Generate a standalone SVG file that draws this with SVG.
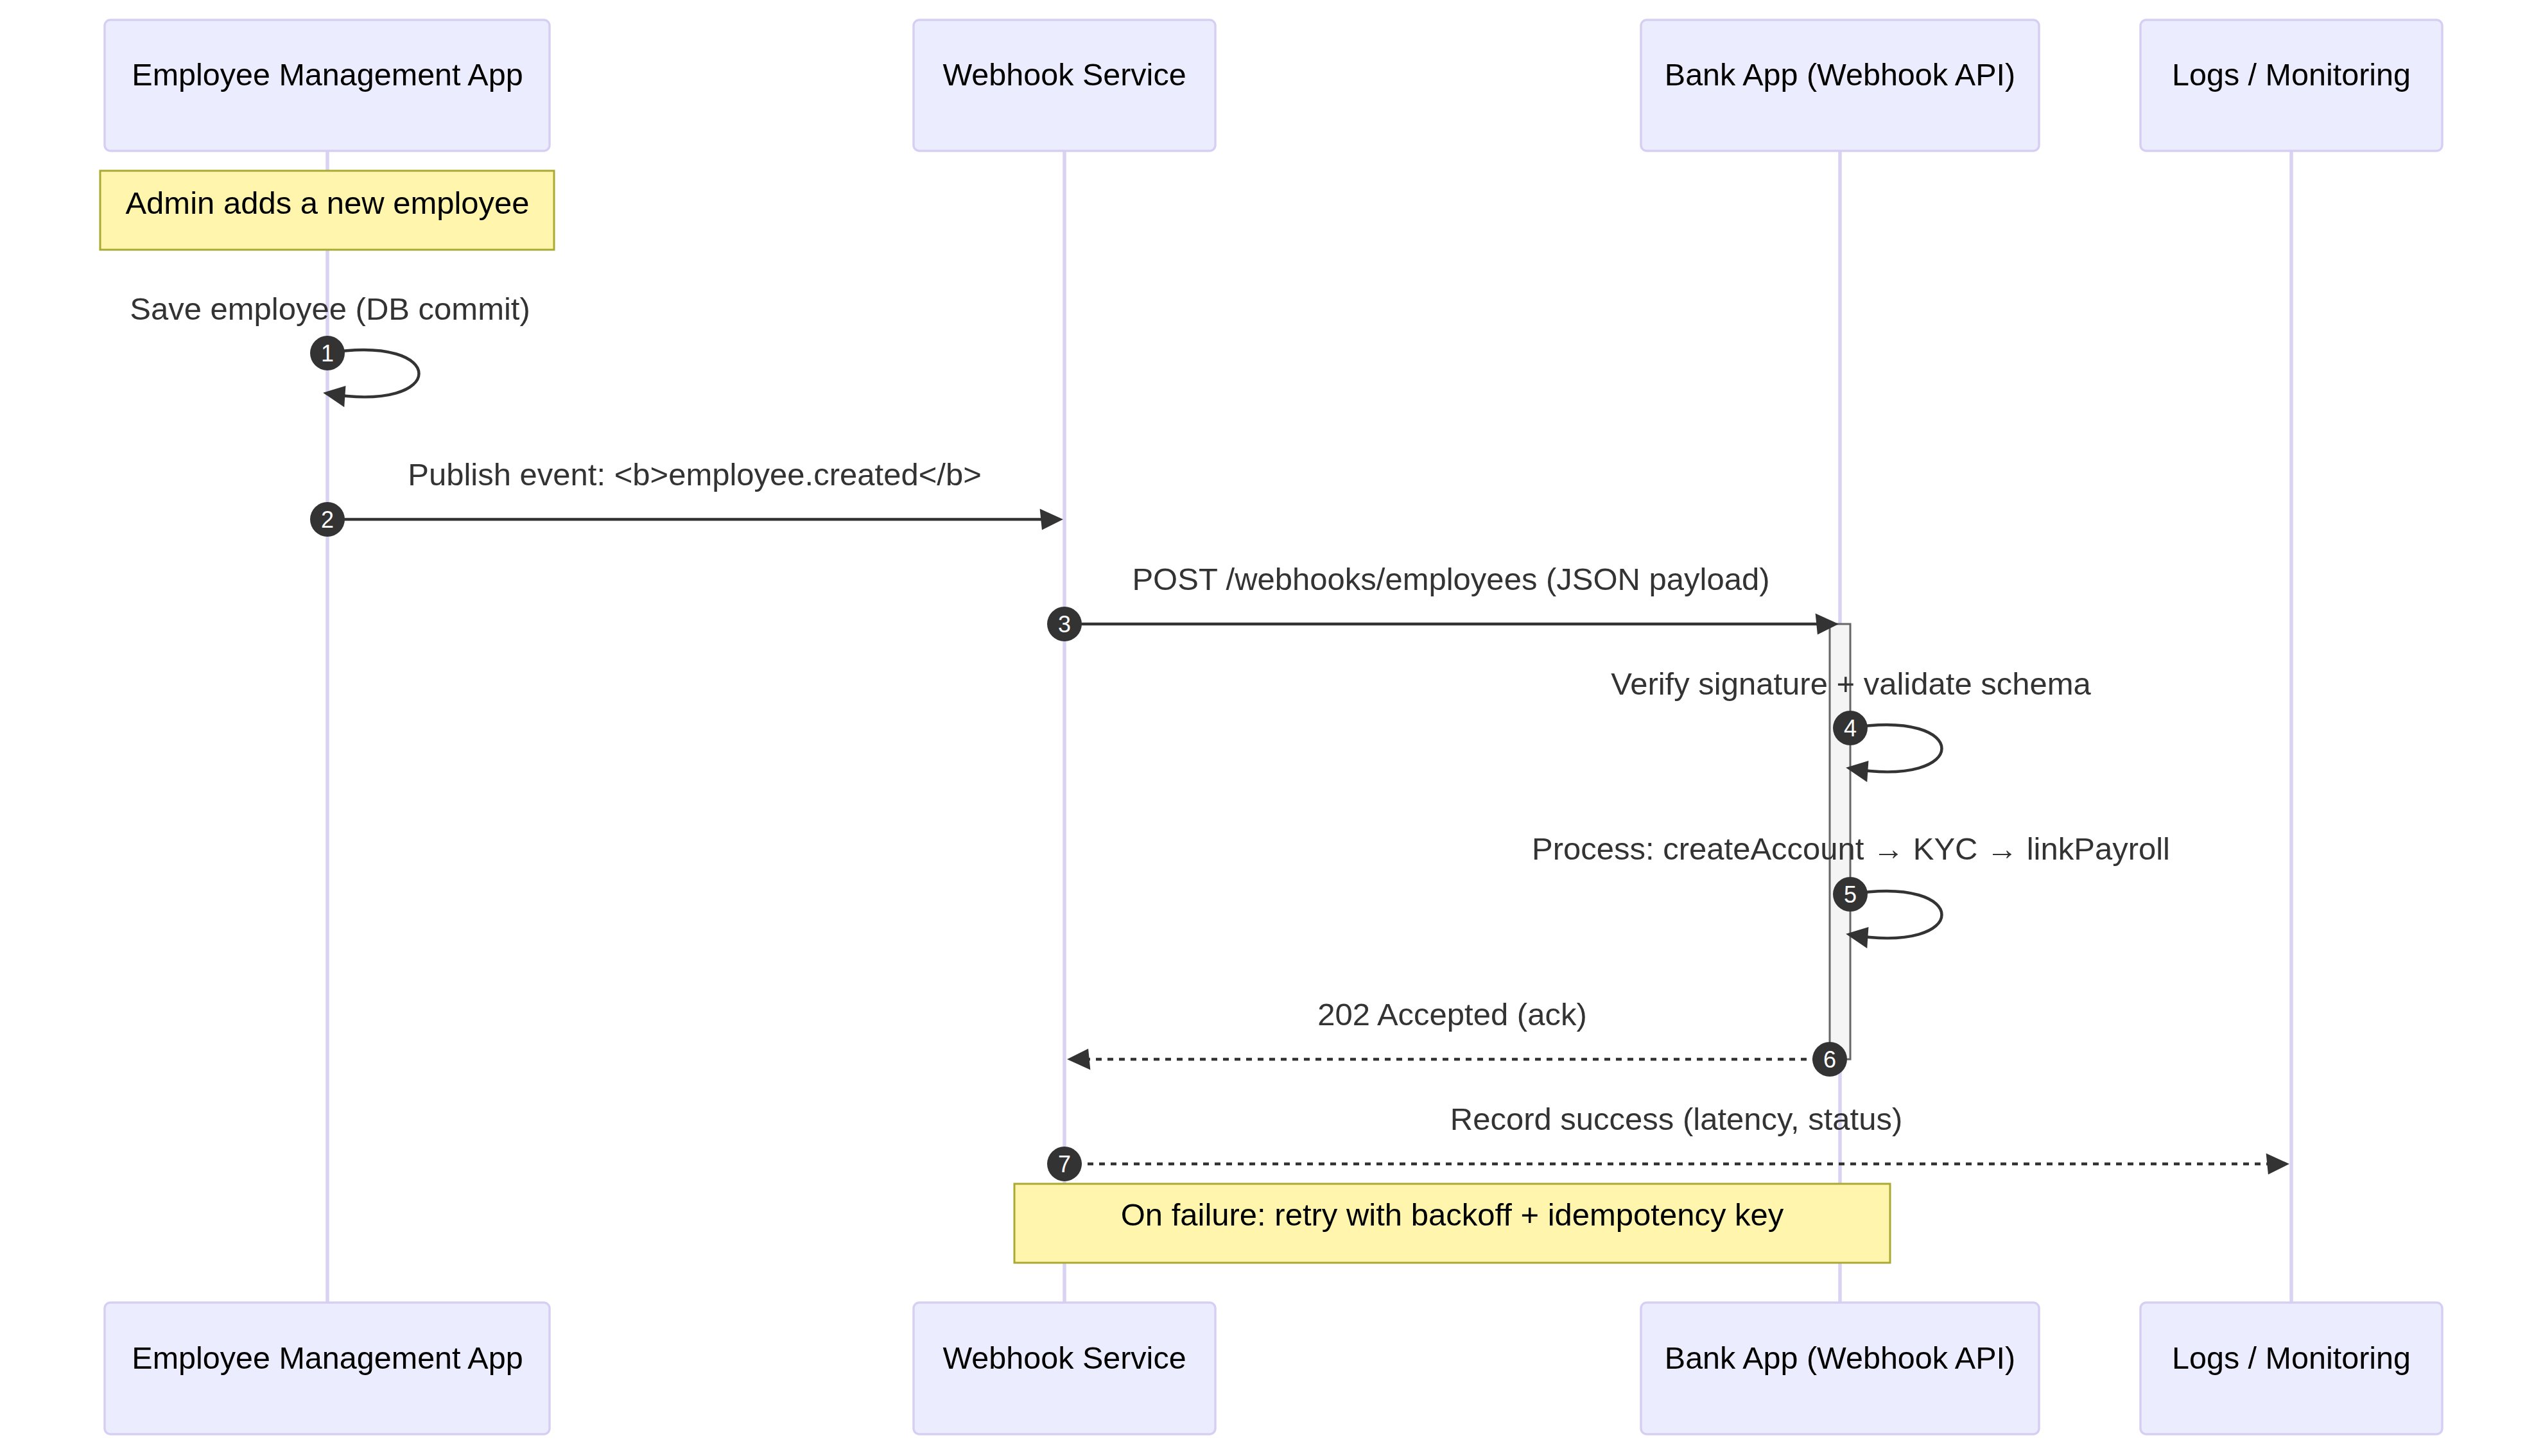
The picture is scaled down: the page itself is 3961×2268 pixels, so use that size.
<svg xmlns="http://www.w3.org/2000/svg" width="3961" height="2268" viewBox="0 0 3961 2268">
<defs>
<style>
text{font-family:"Liberation Sans",Arial,sans-serif;}
.actor{fill:#ECECFF;stroke:#D7CFF3;stroke-width:3.5;}
.actorText{font-size:48.5px;fill:#000;text-anchor:middle;}
.lifeline{stroke:#DAD2F2;stroke-width:5.5;fill:none;}
.note{fill:#FFF5AD;stroke:#AAAA33;stroke-width:3;}
.noteText{font-size:49px;fill:#000;text-anchor:middle;}
.msg{stroke:#333;stroke-width:4.5;fill:none;marker-end:url(#arrowhead);}
.dotted{stroke-dasharray:9 9;}
.msgText{font-size:49px;fill:#333;text-anchor:middle;}
.badge{fill:#333;}
.badgeText{font-size:36px;fill:#fff;text-anchor:middle;}
.activation{fill:#F4F4F4;stroke:#666;stroke-width:3;}
</style>
<marker id="arrowhead" viewBox="-1 0 12 12" refX="7.9" refY="5" markerUnits="userSpaceOnUse" markerWidth="39.6" markerHeight="39.6" orient="auto" overflow="visible">
<path d="M -1 0 L 10 5 L 0 10 z" fill="#333"/>
</marker>
</defs>
<rect width="3961" height="2268" fill="#fff"/>

<g id="lifelines">
<line class="lifeline" x1="510" y1="235" x2="510" y2="2029"/>
<line class="lifeline" x1="1658" y1="235" x2="1658" y2="2029"/>
<line class="lifeline" x1="2866" y1="235" x2="2866" y2="2029"/>
<line class="lifeline" x1="3569" y1="235" x2="3569" y2="2029"/>
</g>

<g id="actor-ema-top">
<rect class="actor" x="163" y="31" width="693" height="204" rx="9"/>
<text class="actorText" x="510" y="133">Employee Management App</text>
</g>
<g id="actor-webhook-top">
<rect class="actor" x="1423" y="31" width="470" height="204" rx="9"/>
<text class="actorText" x="1658" y="133">Webhook Service</text>
</g>
<g id="actor-bank-top">
<rect class="actor" x="2556" y="31" width="620" height="204" rx="9"/>
<text class="actorText" x="2866" y="133">Bank App (Webhook API)</text>
</g>
<g id="actor-logs-top">
<rect class="actor" x="3334" y="31" width="470" height="204" rx="9"/>
<text class="actorText" x="3569" y="133">Logs / Monitoring</text>
</g>

<g id="actor-ema-bottom">
<rect class="actor" x="163" y="2029" width="693" height="205" rx="9"/>
<text class="actorText" x="510" y="2132">Employee Management App</text>
</g>
<g id="actor-webhook-bottom">
<rect class="actor" x="1423" y="2029" width="470" height="205" rx="9"/>
<text class="actorText" x="1658" y="2132">Webhook Service</text>
</g>
<g id="actor-bank-bottom">
<rect class="actor" x="2556" y="2029" width="620" height="205" rx="9"/>
<text class="actorText" x="2866" y="2132">Bank App (Webhook API)</text>
</g>
<g id="actor-logs-bottom">
<rect class="actor" x="3334" y="2029" width="470" height="205" rx="9"/>
<text class="actorText" x="3569" y="2132">Logs / Monitoring</text>
</g>

<g id="note-admin">
<rect class="note" x="156" y="266" width="707" height="123"/>
<text class="noteText" x="510" y="333">Admin adds a new employee</text>
</g>

<g id="activation-bank">
<rect class="activation" x="2850" y="972" width="32" height="678"/>
</g>

<g id="connectors">
<text class="msgText" x="514" y="498">Save employee (DB commit)</text>
<path class="msg" d="M 510,550 C 700,519 700,645 510,613"/>

<text class="msgText" x="1082" y="756">Publish event: &lt;b&gt;employee.created&lt;/b&gt;</text>
<line class="msg" x1="510" y1="809" x2="1649" y2="809"/>

<text class="msgText" x="2260" y="919">POST /webhooks/employees (JSON payload)</text>
<line class="msg" x1="1658" y1="972" x2="2857" y2="972"/>

<text class="msgText" x="2883" y="1082">Verify signature + validate schema</text>
<path class="msg" d="M 2882,1134 C 3072,1103 3072,1229 2882,1197"/>

<text class="msgText" x="2883" y="1339">Process: createAccount → KYC → linkPayroll</text>
<path class="msg" d="M 2882,1393 C 3072,1362 3072,1488 2882,1456"/>

<text class="msgText" x="2262" y="1597">202 Accepted (ack)</text>
<line class="msg dotted" x1="2850" y1="1650" x2="1669" y2="1650"/>

<text class="msgText" x="2611" y="1760">Record success (latency, status)</text>
<line class="msg dotted" x1="1658" y1="1813" x2="3559" y2="1813"/>
</g>

<g id="sequence-numbers">
<circle class="badge" cx="510" cy="550" r="27"/><text class="badgeText" x="510" y="563">1</text>
<circle class="badge" cx="510" cy="809" r="27"/><text class="badgeText" x="510" y="822">2</text>
<circle class="badge" cx="1658" cy="972" r="27"/><text class="badgeText" x="1658" y="985">3</text>
<circle class="badge" cx="2882" cy="1134" r="27"/><text class="badgeText" x="2882" y="1147">4</text>
<circle class="badge" cx="2882" cy="1393" r="27"/><text class="badgeText" x="2882" y="1406">5</text>
<circle class="badge" cx="2850" cy="1650" r="27"/><text class="badgeText" x="2850" y="1663">6</text>
<circle class="badge" cx="1658" cy="1813" r="27"/><text class="badgeText" x="1658" y="1826">7</text>
</g>

<g id="note-retry">
<rect class="note" x="1580" y="1844" width="1364" height="123"/>
<text class="noteText" x="2262" y="1909">On failure: retry with backoff + idempotency key</text>
</g>
</svg>
